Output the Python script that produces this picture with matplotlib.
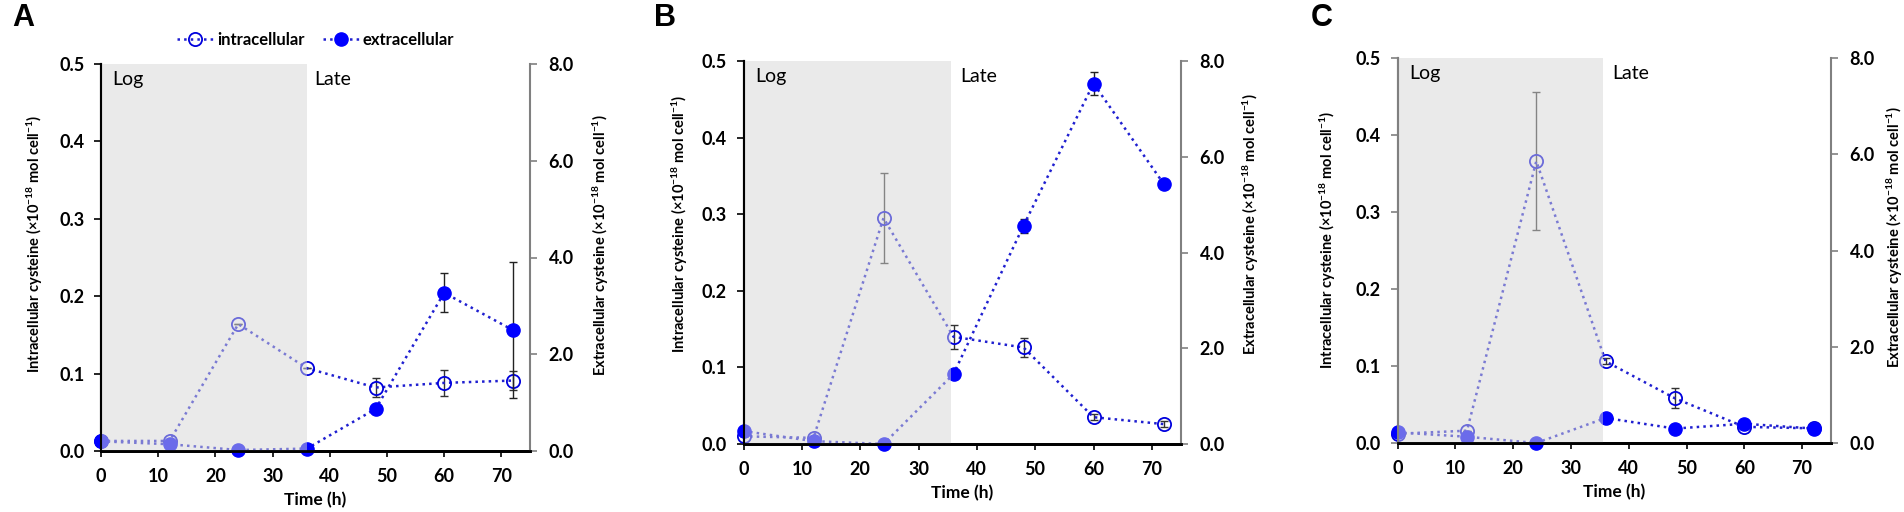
import matplotlib
matplotlib.use("Agg")
import matplotlib.pyplot as plt
import numpy as np

plt.rcParams['font.family'] = ['Lato', 'DejaVu Sans']
plt.rcParams['mathtext.fontset'] = 'custom'
plt.rcParams['mathtext.rm'] = 'Lato'
plt.rcParams['mathtext.bf'] = 'Lato:bold'
plt.rcParams['mathtext.default'] = 'bf'

time_h = [0, 12, 24, 36, 48, 60, 72]

# Panel A
intra_A = [0.013, 0.013, 0.164, 0.107, 0.082, 0.088, 0.091]
intra_A_err = [0.0, 0.0, 0.0, 0.0, 0.012, 0.017, 0.012]
extra_A = [0.20, 0.14, 0.02, 0.05, 0.87, 3.27, 2.50]
extra_A_err = [0.0, 0.0, 0.0, 0.0, 0.0, 0.40, 1.40]

# Panel B
intra_B = [0.010, 0.008, 0.295, 0.140, 0.126, 0.035, 0.026]
intra_B_err = [0.0, 0.0, 0.059, 0.016, 0.012, 0.004, 0.004]
extra_B = [0.27, 0.06, 0.00, 1.46, 4.56, 7.53, 5.44]
extra_B_err = [0.0, 0.0, 0.0, 0.0, 0.15, 0.23, 0.0]

# Panel C
intra_C = [0.012, 0.016, 0.366, 0.106, 0.058, 0.021, 0.019]
intra_C_err = [0.0, 0.0, 0.090, 0.004, 0.013, 0.0, 0.0]
extra_C = [0.22, 0.13, 0.00, 0.52, 0.30, 0.40, 0.30]
extra_C_err = [0.0, 0.0, 0.0, 0.0, 0.0, 0.0, 0.0]

panels = [
    ("A", intra_A, intra_A_err, extra_A, extra_A_err),
    ("B", intra_B, intra_B_err, extra_B, extra_B_err),
    ("C", intra_C, intra_C_err, extra_C, extra_C_err),
]

W, H = 1904, 512
fig = plt.figure(figsize=(W / 100, H / 100), dpi=100)

# pixel boxes: left, right, top, bottom
boxes = [(101, 530, 64, 451), (743.5, 1181, 61, 444), (1397.6, 1831, 58, 443)]
left_label_x = [45, 690.5, 1338.5]      # right edge of left label (px)
right_label_x = [591, 1240.5, 1885]     # left edge of right label (px)
left_label_y = [0.535, 0.575, 0.527]
right_label_y = [0.532, 0.574, 0.535]
left_spine_col = ['black', 'black', '#808080']
letter_x = [12, 654, 1311]
shade_end = [36.0, 35.6, 35.5]

line_col = '#1f1fd0'
mark_col = '#0000ff'
bold = dict(fontweight='bold')
ylab_fs = 10.5
tick_fs = 13

intra_label = r"Intracellular cysteine (×10$^{-18}$ mol cell$^{-1}$)"
extra_label = r"Extracellular cysteine (×10$^{-18}$ mol cell$^{-1}$)"

for i, (letter, intra, intra_err, extra, extra_err) in enumerate(panels):
    l, r, t, b = boxes[i]
    ax = fig.add_axes([l / W, 1 - b / H, (r - l) / W, (b - t) / H])
    ax2 = ax.twinx()

    ax.set_xlim(0, 75)
    ax.set_ylim(0, 0.5)
    ax2.set_ylim(0, 8.0)

    # intracellular
    ax.errorbar(time_h, intra, yerr=intra_err, fmt='none', ecolor='#333333',
                elinewidth=1.0, capsize=3, capthick=1.0, zorder=2, clip_on=False)
    h1, = ax.plot(time_h, intra, linestyle=':', color=line_col, linewidth=1.8,
                  marker='o', markersize=9.5, markerfacecolor='none',
                  markeredgecolor='#0000dd', markeredgewidth=1.3, zorder=3,
                  clip_on=False)
    # extracellular
    ax2.errorbar(time_h, extra, yerr=extra_err, fmt='none', ecolor='#222222',
                 elinewidth=1.0, capsize=3, capthick=1.0, zorder=2, clip_on=False)
    h2, = ax2.plot(time_h, extra, linestyle=':', color=line_col, linewidth=1.8,
                   marker='o', markersize=9.5, markerfacecolor=mark_col,
                   markeredgecolor=mark_col, zorder=3, clip_on=False)

    # shaded log phase drawn over data
    ax2.axvspan(0, shade_end[i], ymin=0, ymax=1, facecolor='#d6d6d6', alpha=0.5,
                edgecolor='none', zorder=4)
    ax2.text(2.0, 0.96, "Log", transform=ax2.get_xaxis_transform(), fontsize=14,
             va='center', ha='left', zorder=6)
    ax2.text(37.2, 0.96, "Late", transform=ax2.get_xaxis_transform(), fontsize=14,
             va='center', ha='left', zorder=6)

    # ticks
    ax.set_xticks(np.arange(0, 71, 10))
    ax.set_xticklabels([str(v) for v in range(0, 71, 10)], fontsize=tick_fs, **bold)
    ax.set_yticks(np.arange(0, 0.51, 0.1))
    ax.set_yticklabels([f"{v:.1f}" for v in np.arange(0, 0.51, 0.1)], fontsize=tick_fs, **bold)
    ax2.set_yticks(np.arange(0, 8.1, 2.0))
    ax2.set_yticklabels([f"{v:.1f}" for v in np.arange(0, 8.1, 2.0)], fontsize=tick_fs, **bold)

    ax.tick_params(axis='x', direction='out', length=4, width=1.2, pad=8.5, colors='black')
    ax.tick_params(axis='y', direction='out', length=5, width=1.2, pad=7,
                   color=left_spine_col[i], labelcolor='black')
    ax2.tick_params(axis='y', direction='out', length=5, width=1.2, pad=8.5,
                    color='#808080', labelcolor='black')

    for a in (ax, ax2):
        a.spines['top'].set_visible(False)
    ax.spines['right'].set_visible(False)
    ax2.spines['left'].set_color(left_spine_col[i])
    ax2.spines['left'].set_linewidth(1.5)
    ax2.spines['bottom'].set_color('black')
    ax2.spines['bottom'].set_linewidth(2.0)
    ax2.spines['right'].set_color('#808080')
    ax2.spines['right'].set_linewidth(1.5)
    ax.spines['left'].set_color(left_spine_col[i])
    ax.spines['left'].set_linewidth(1.5)
    ax.spines['bottom'].set_linewidth(2.0)
    for s in ax2.spines.values():
        s.set_zorder(8)

    ax.set_xlabel("Time (h)", fontsize=12.5, labelpad=5, **bold)
    ax.set_ylabel(intra_label, fontsize=ylab_fs, **bold)
    ax2.set_ylabel(extra_label, fontsize=ylab_fs, **bold)
    ax.yaxis.set_label_coords((left_label_x[i] - l) / (r - l), left_label_y[i])
    ax2.yaxis.set_label_coords((right_label_x[i] - l) / (r - l), right_label_y[i])

    fig.text(letter_x[i] / W, 1 - 18 / H, letter, fontsize=22, fontweight='bold',
             ha='left', va='center', family=['Liberation Sans', 'DejaVu Sans'])

    if i == 0:
        ax.legend([h1, h2], ["intracellular", "extracellular"], loc='center',
                  bbox_to_anchor=(0.5, 1 + (64 - 40) / 387), ncol=2, frameon=False,
                  prop=dict(size=12, weight='bold'), handlelength=2.2,
                  handletextpad=0.2, columnspacing=1.1, borderaxespad=0)

fig.savefig("out.png", dpi=100)
